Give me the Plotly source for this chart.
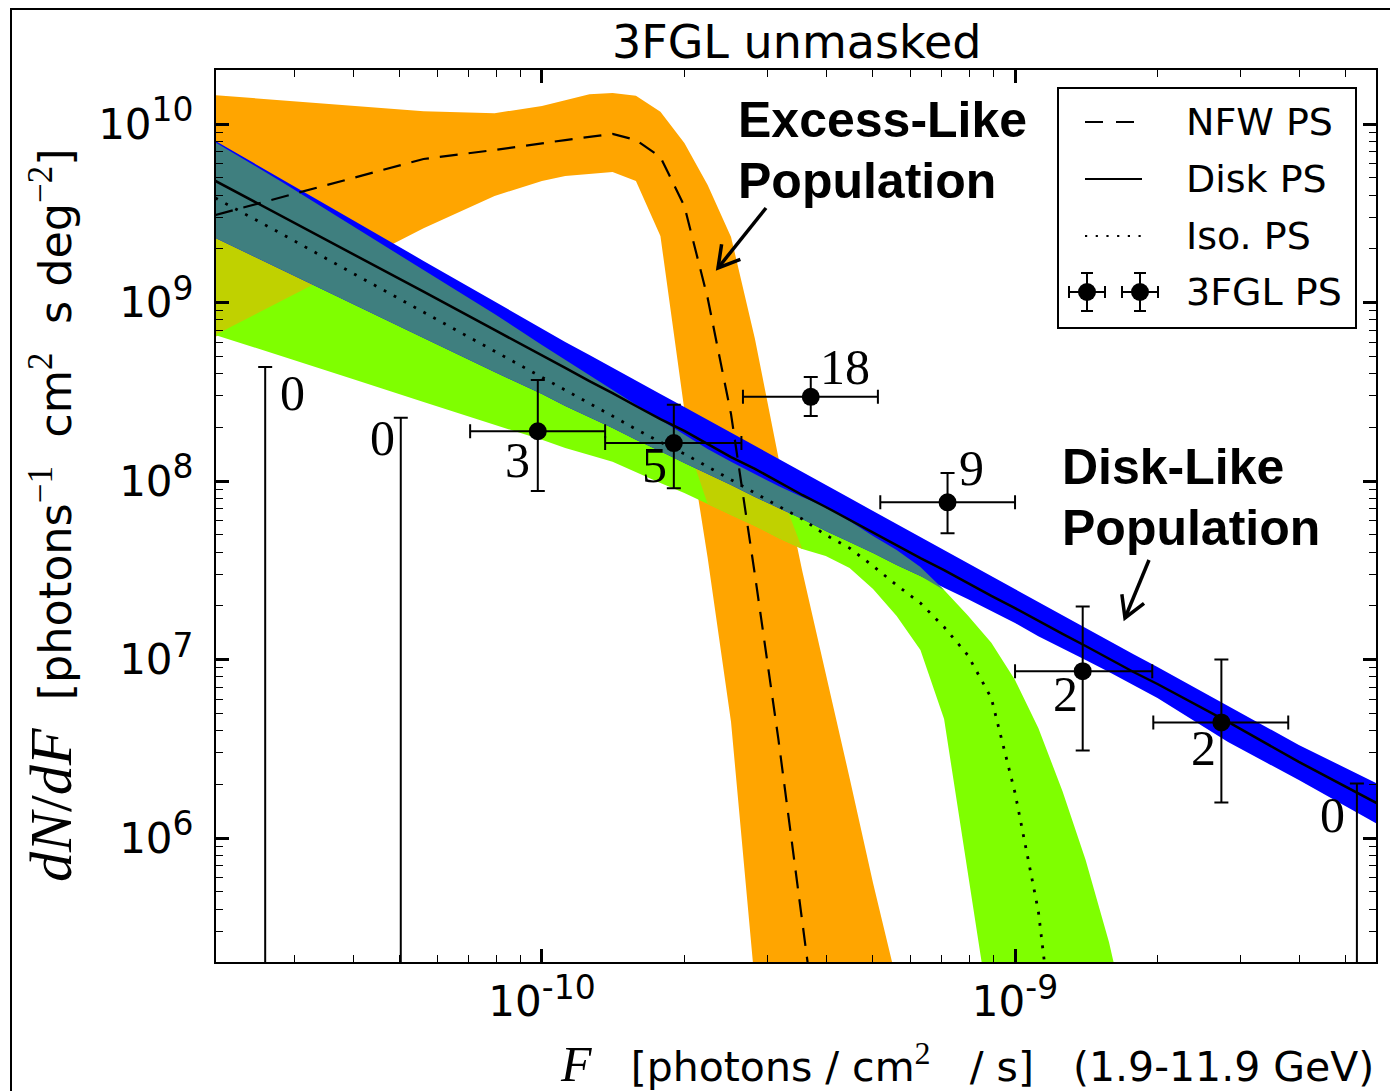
import math
import plotly.graph_objects as go

# ---------------- data ----------------
F_grid = [2.04e-11, 2.82e-11, 3.98e-11, 5.62e-11, 7.94e-11, 1.00e-10, 1.12e-10, 1.26e-10, 1.41e-10, 1.58e-10,
          1.78e-10, 2.00e-10, 2.24e-10, 2.51e-10, 2.82e-10, 3.16e-10, 3.55e-10, 3.98e-10, 4.47e-10, 5.01e-10,
          5.62e-10, 6.31e-10, 7.08e-10, 7.94e-10, 8.91e-10, 1.00e-9, 1.12e-9, 1.26e-9, 1.41e-9, 1.58e-9,
          1.78e-9, 2.00e-9, 2.82e-9, 3.98e-9, 6.03e-9]

# NFW PS (excess-like) band and median
nfw_hi = [1.45e10, 1.36e10, 1.26e10, 1.18e10, 1.15e10, 1.26e10, 1.36e10, 1.47e10, 1.49e10, 1.44e10,
          1.17e10, 7.83e9, 4.55e9, 2.33e9, 6.25e8, 1.36e8, 3.13e7, 8.5e6, 2.17e6, 5.6e5,
          1.56e5, 4.4e4, 1e3, 1e3, 1e3, 1e3, 1e3, 1e3, 1e3, 1e3,
          1e3, 1e3, 1e3, 1e3, 1e3]
nfw_lo = [6.41e8, 1.02e9, 1.64e9, 2.61e9, 3.95e9, 4.80e9, 5.11e9, 5.25e9, 5.38e9, 4.80e9,
          2.36e9, 2.50e8, 3.71e7, 4.47e6, 1.50e5, 1e3, 1e3, 1e3, 1e3, 1e3,
          1e3, 1e3, 1e3, 1e3, 1e3, 1e3, 1e3, 1e3, 1e3, 1e3,
          1e3, 1e3, 1e3, 1e3, 1e3]
nfw_med = [3.09e9, 3.90e9, 4.98e9, 6.37e9, 7.15e9, 7.83e9, 8.13e9, 8.46e9, 8.79e9, 8.13e9,
           6.53e9, 3.47e9, 1.06e9, 2.37e8, 2.97e7, 3.59e6, 3.61e5, 3.36e4, 1e3, 1e3,
           1e3, 1e3, 1e3, 1e3, 1e3, 1e3, 1e3, 1e3, 1e3, 1e3,
           1e3, 1e3, 1e3, 1e3, 1e3]

# Disk PS band and median
disk_hi = [8.03e9, 4.92e9, 2.90e9, 1.71e9, 1.01e9, 7.11e8, 6.01e8, 5.08e8, 4.30e8, 3.63e8,
           3.07e8, 2.60e8, 2.20e8, 1.86e8, 1.57e8, 1.33e8, 1.12e8, 9.50e7, 8.03e7, 6.79e7,
           5.74e7, 4.86e7, 4.11e7, 3.47e7, 2.94e7, 2.48e7, 2.10e7, 1.77e7, 1.50e7, 1.27e7,
           1.07e7, 9.08e6, 5.49e6, 3.32e6, 1.93e6]
disk_lo = [2.30e9, 1.52e9, 9.81e8, 6.33e8, 4.08e8, 3.07e8, 2.63e8, 2.28e8, 1.98e8, 1.70e8,
           1.47e8, 1.26e8, 1.09e8, 9.50e7, 8.13e7, 7.06e7, 6.12e7, 5.25e7, 4.55e7, 3.95e7,
           3.38e7, 2.94e7, 2.52e7, 2.18e7, 1.87e7, 1.60e7, 1.35e7, 1.16e7, 9.94e6, 8.51e6,
           7.19e6, 6.08e6, 3.45e6, 2.11e6, 1.14e6]
disk_med = [4.80e9, 3.05e9, 1.87e9, 1.15e9, 7.02e8, 5.08e8, 4.30e8, 3.63e8, 3.11e8, 2.63e8,
            2.22e8, 1.91e8, 1.61e8, 1.36e8, 1.17e8, 9.87e7, 8.35e7, 7.15e7, 6.05e7, 5.18e7,
            4.38e7, 3.70e7, 3.17e7, 2.68e7, 2.27e7, 1.94e7, 1.64e7, 1.39e7, 1.19e7, 1.01e7,
            8.51e6, 7.29e6, 4.47e6, 2.67e6, 1.49e6]

# Isotropic PS band and median
iso_hi = [7.90e9, 4.73e9, 2.68e9, 1.52e9, 8.62e8, 5.78e8, 4.76e8, 3.93e8, 3.24e8, 2.67e8,
          2.20e8, 1.81e8, 1.51e8, 1.28e8, 1.09e8, 9.37e7, 8.13e7, 7.15e7, 5.97e7, 4.92e7,
          4.11e7, 3.30e7, 2.45e7, 1.77e7, 1.24e7, 7.67e6, 4.13e6, 1.83e6, 7.53e5, 2.61e5,
          6.49e4, 1.57e4, 1e3, 1e3, 1e3]
iso_lo = [6.58e8, 5.01e8, 3.73e8, 2.77e8, 2.06e8, 1.70e8, 1.53e8, 1.40e8, 1.28e8, 1.12e8,
          9.75e7, 8.57e7, 7.43e7, 6.45e7, 5.60e7, 4.80e7, 4.16e7, 3.80e7, 3.26e7, 2.48e7,
          1.75e7, 1.13e7, 4.64e6, 6.62e5, 8.96e4, 1e3, 1e3, 1e3, 1e3, 1e3,
          1e3, 1e3, 1e3, 1e3, 1e3]
iso_med = [3.85e9, 2.42e9, 1.46e9, 8.85e8, 5.35e8, 3.83e8, 3.24e8, 2.74e8, 2.31e8, 1.95e8,
           1.65e8, 1.42e8, 1.20e8, 1.01e8, 8.57e7, 7.24e7, 6.12e7, 4.98e7, 4.21e7, 3.34e7,
           2.61e7, 2.07e7, 1.52e7, 1.06e7, 6.08e6, 1.79e6, 3.90e5, 2.81e4, 1e3, 1e3,
           1e3, 1e3, 1e3, 1e3, 1e3]

# 3FGL point sources (binned)
ps_F = [9.8e-11, 1.9e-10, 3.7e-10, 7.2e-10, 1.39e-9, 2.73e-9]
ps_F_lo = [7.05e-11, 1.36e-10, 2.66e-10, 5.19e-10, 1.0e-9, 1.96e-9]
ps_F_hi = [1.36e-10, 2.64e-10, 5.13e-10, 1.0e-9, 1.95e-9, 3.78e-9]
ps_val = [1.9e8, 1.63e8, 2.96e8, 7.6e7, 8.6e6, 4.44e6]
ps_val_hi = [3.68e8, 2.67e8, 3.83e8, 1.11e8, 1.98e7, 1.0e7]
ps_val_lo = [8.8e7, 9.1e7, 2.31e8, 5.1e7, 3.09e6, 1.58e6]
ps_counts = ["3", "5", "18", "9", "2", "2"]

# empty bins (upper limits)
ul_F = [2.6e-11, 5.03e-11, 5.28e-9]
ul_val = [4.35e8, 2.26e8, 2.02e6]
ul_counts = ["0", "0", "0"]

x_tickvals = [1e-10, 1e-9]
x_tickexp = ["-10", "-9"]
y_tickvals = [1e6, 1e7, 1e8, 1e9, 1e10]
y_tickexp = ["6", "7", "8", "9", "10"]

legend_labels = ["NFW PS", "Disk PS", "Iso. PS", "3FGL PS"]

# ---------------- layout helpers ----------------
W, H = 1390, 1091
ML, MR, MT, MB = 216, 14, 70, 129
PW, PH = W - ML - MR, H - MT - MB
SERIF = "Liberation Serif"
SANS = "DejaVu Sans"

ORANGE = "#FFA500"
LIME = "#7FFF00"
BLUE = "#0000FF"
OLIVE = "#C0D100"
TEAL = "#3F7F7F"


def px(x):
    return (x - ML) / PW


def py(y):
    return (H - MB - y) / PH


def overlap(hi1, lo1, hi2, lo2):
    hi, lo = [], []
    for a1, b1, a2, b2 in zip(hi1, lo1, hi2, lo2):
        h, l = min(a1, a2), max(b1, b2)
        if h < l:
            anchor = a2 if a2 < b1 else b2
            h = l = anchor
        hi.append(h)
        lo.append(l)
    return hi, lo


def band(hi, lo, color):
    return go.Scatter(x=F_grid + F_grid[::-1], y=hi + lo[::-1], mode="lines", fill="toself",
                      fillcolor=color, line=dict(width=0, color=color), hoverinfo="skip",
                      showlegend=False)


def sup_tick(exp):
    return '10<sup><span style="font-size:33px">' + exp + '</span></sup>'


fig = go.Figure()
fig.add_trace(band(nfw_hi, nfw_lo, ORANGE))
fig.add_trace(band(iso_hi, iso_lo, LIME))
og_hi, og_lo = overlap(nfw_hi, nfw_lo, iso_hi, iso_lo)
fig.add_trace(band(og_hi, og_lo, OLIVE))
fig.add_trace(band(disk_hi, disk_lo, BLUE))
bg_hi, bg_lo = overlap(disk_hi, disk_lo, iso_hi, iso_lo)
fig.add_trace(band(bg_hi, bg_lo, TEAL))

fig.add_trace(go.Scatter(x=F_grid, y=nfw_med, mode="lines", line=dict(color="black", width=2.2, dash="18px,11px"),
                         name=legend_labels[0], showlegend=False))
fig.add_trace(go.Scatter(x=F_grid, y=iso_med, mode="lines", line=dict(color="black", width=2.8, dash="2.8px,8.5px"),
                         name=legend_labels[2], showlegend=False))
fig.add_trace(go.Scatter(x=F_grid, y=disk_med, mode="lines", line=dict(color="black", width=2.5),
                         name=legend_labels[1], showlegend=False))

fig.add_trace(go.Scatter(
    x=ps_F, y=ps_val, mode="markers", marker=dict(color="black", size=18),
    error_x=dict(type="data", symmetric=False,
                 array=[h - f for h, f in zip(ps_F_hi, ps_F)],
                 arrayminus=[f - l for f, l in zip(ps_F, ps_F_lo)],
                 color="black", thickness=2, width=7),
    error_y=dict(type="data", symmetric=False,
                 array=[h - v for h, v in zip(ps_val_hi, ps_val)],
                 arrayminus=[v - l for v, l in zip(ps_val, ps_val_lo)],
                 color="black", thickness=2, width=7),
    name=legend_labels[3], showlegend=False))

fig.add_trace(go.Scatter(
    x=ul_F, y=ul_val, mode="markers", marker=dict(color="black", size=1, opacity=0),
    error_y=dict(type="data", symmetric=False, array=[0] * len(ul_val),
                 arrayminus=[v * 0.9999999 for v in ul_val], color="black", thickness=2, width=7),
    showlegend=False, hoverinfo="skip"))

annotations = []
# count labels next to the points (pixel offsets are layout)
ps_offsets = [(-20, 29), (-19, 22), (34, -30), (24, -34), (-17, 23), (-18, 26)]
ul_offsets = [(27, 26), (-18, 20), (-24, 32)]
for f, v, c, (dx, dy) in zip(ps_F + ul_F, ps_val + ul_val, ps_counts + ul_counts, ps_offsets + ul_offsets):
    annotations.append(dict(x=math.log10(f), y=math.log10(v), xref="x", yref="y", text=c, showarrow=False,
                            xshift=dx, yshift=-dy, xanchor="center", yanchor="middle",
                            font=dict(family=SERIF, size=50, color="black")))

# title and axis titles
annotations.append(dict(x=0.5, y=py(42), xref="paper", yref="paper", text="3FGL unmasked", showarrow=False,
                        xanchor="center", yanchor="middle", font=dict(family=SANS, size=46, color="black")))
ylab = ('<span style="font-family:Liberation Serif;font-size:60px"><i>dN</i>/<i>dF</i></span>\u00a0\u00a0[photons'
        '<sup><span style="font-family:Liberation Serif;font-size:35px">\u22121</span></sup>\u00a0\u00a0cm'
        '<sup><span style="font-family:Liberation Serif;font-size:35px">2</span></sup>\u00a0\u00a0s deg'
        '<sup><span style="font-family:Liberation Serif;font-size:35px">\u22122</span></sup>]')
annotations.append(dict(x=px(51), y=py(515), xref="paper", yref="paper", text=ylab, textangle=-90,
                        showarrow=False, xanchor="center", yanchor="middle",
                        font=dict(family=SANS, size=44.5, color="black")))
xlab = ('<span style="font-family:Liberation Serif;font-size:50px"><i>F</i></span>\u00a0\u00a0\u00a0[photons / cm'
        '<sup><span style="font-family:Liberation Serif;font-size:32px">2</span></sup>\u00a0\u00a0\u00a0/ s]'
        '\u00a0\u00a0\u00a0(1.9-11.9 GeV)')
annotations.append(dict(x=1.0, y=py(1063), xref="paper", yref="paper", text=xlab, showarrow=False,
                        xanchor="right", yanchor="middle", font=dict(family=SANS, size=41, color="black")))

# population labels
for txt, x0, yc in [("Excess-Like", 736, 120), ("Population", 736, 181),
                    ("Disk-Like", 1060, 467), ("Population", 1060, 528)]:
    annotations.append(dict(x=px(x0), y=py(yc), xref="paper", yref="paper", text="<b>" + txt + "</b>",
                            showarrow=False, xanchor="left", yanchor="middle",
                            font=dict(family="Liberation Sans", size=50, color="black")))

# legend texts
leg_y = [122, 179, 236, 292]
for lab, yy in zip(legend_labels, leg_y):
    annotations.append(dict(x=px(1184), y=py(yy), xref="paper", yref="paper", text=lab, showarrow=False,
                            xanchor="left", yanchor="middle", font=dict(family=SANS, size=38, color="black")))

shapes = []


def pline(x0, y0, x1, y1, width=2, dash=None):
    d = dict(type="line", xref="paper", yref="paper", x0=px(x0), y0=py(y0), x1=px(x1), y1=py(y1),
             line=dict(color="black", width=width), layer="above")
    if dash:
        d["line"]["dash"] = dash
    return d


def arrow(tx, ty, hx, hy, arm=24, ang=30, width=3.5):
    ux, uy = tx - hx, ty - hy
    n = math.hypot(ux, uy)
    ux, uy = ux / n, uy / n
    pts = []
    for s in (1, -1):
        a = math.radians(ang * s)
        rx = ux * math.cos(a) - uy * math.sin(a)
        ry = ux * math.sin(a) + uy * math.cos(a)
        pts.append((hx + arm * rx, hy + arm * ry))
    path = "M {} {} L {} {} L {} {}".format(px(pts[0][0]), py(pts[0][1]), px(hx), py(hy), px(pts[1][0]), py(pts[1][1]))
    return [pline(tx, ty, hx, hy, width=width),
            dict(type="path", xref="paper", yref="paper", path=path, line=dict(color="black", width=width),
                 layer="above")]


shapes += arrow(766, 208, 718, 268)
shapes += arrow(1149, 560, 1125, 618)

# legend box and samples
shapes.append(dict(type="rect", xref="paper", yref="paper", x0=px(1058), x1=px(1356), y0=py(328), y1=py(88),
                   line=dict(color="black", width=2), fillcolor="white", layer="above"))
shapes.append(pline(1085, 122, 1141, 122, width=2, dash="18px,13px"))
shapes.append(pline(1085, 179, 1142, 179, width=2))
shapes.append(pline(1085, 236, 1142, 236, width=2.2, dash="2.2px,8.5px"))
for mx in (1087, 1140):
    shapes.append(pline(mx - 18, 292, mx + 18, 292, width=2))
    shapes.append(pline(mx, 273, mx, 311, width=2))
    shapes.append(pline(mx - 6, 273, mx + 6, 273, width=2))
    shapes.append(pline(mx - 6, 311, mx + 6, 311, width=2))
    shapes.append(pline(mx - 18, 286, mx - 18, 298, width=2))
    shapes.append(pline(mx + 18, 286, mx + 18, 298, width=2))
    shapes.append(dict(type="circle", xref="paper", yref="paper", x0=px(mx - 9), x1=px(mx + 9),
                       y0=py(301), y1=py(283), fillcolor="black", line=dict(color="black", width=0),
                       layer="above"))

# outer frame of the figure
shapes.append(dict(type="rect", xref="paper", yref="paper", x0=px(11), x1=px(1420), y0=py(1120), y1=py(9),
                   line=dict(color="black", width=2), fillcolor="rgba(0,0,0,0)", layer="above"))

x_minor = [k * 10.0 ** e for e in range(-11, -8) for k in range(2, 10)]
y_minor = [k * 10.0 ** e for e in range(5, 11) for k in range(2, 10)]

axis_common = dict(type="log", showgrid=False, zeroline=False, showline=True, linecolor="black", linewidth=2,
                   mirror="ticks", ticks="inside", ticklen=13, tickwidth=3, tickcolor="black",
                   tickfont=dict(family=SANS, size=42, color="black"))
fig.update_xaxes(**axis_common, range=[-10.689, -8.237], tickvals=x_tickvals,
                 ticktext=[sup_tick(e) for e in x_tickexp],
                 minor=dict(ticks="inside", ticklen=7, tickwidth=1.2, tickcolor="black", tickvals=x_minor,
                            showgrid=False), ticklabelstandoff=2)
fig.update_yaxes(**axis_common, range=[5.3053, 10.3025], tickvals=y_tickvals,
                 ticktext=[sup_tick(e) for e in y_tickexp],
                 minor=dict(ticks="inside", ticklen=7, tickwidth=1.2, tickcolor="black", tickvals=y_minor,
                            showgrid=False), ticklabelstandoff=12)

fig.update_layout(width=W, height=H, margin=dict(l=ML, r=MR, t=MT, b=MB, autoexpand=False),
                  paper_bgcolor="white", plot_bgcolor="white", showlegend=False,
                  font=dict(family=SANS, color="black"), annotations=annotations, shapes=shapes)

fig.write_html("out.html", config={"displayModeBar": False},
               post_script="document.body.style.margin='0';document.body.style.padding='0';")
